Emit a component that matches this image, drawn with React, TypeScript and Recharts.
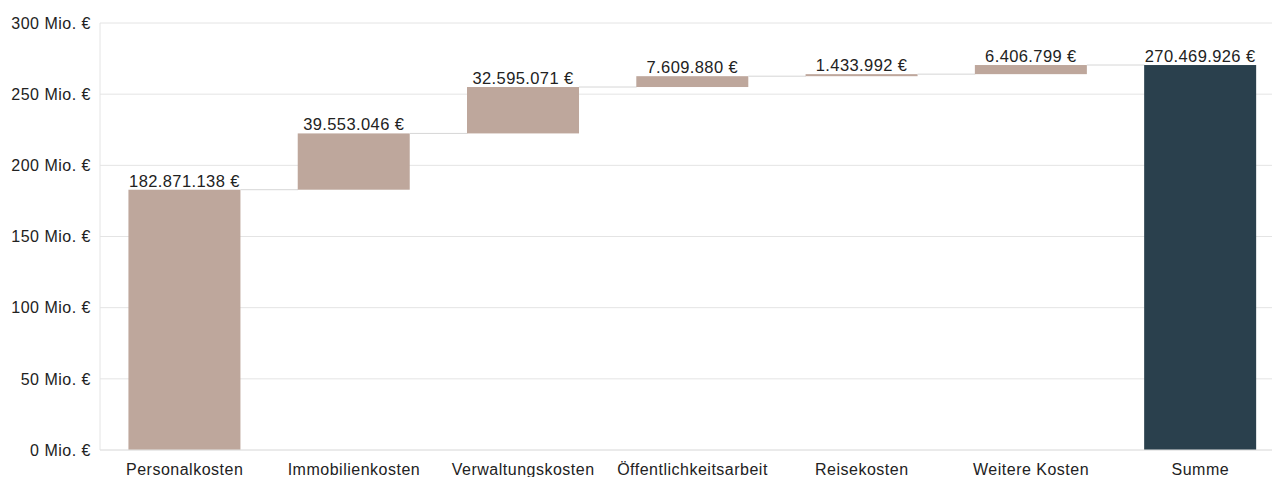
import React from 'react';
import { BarChart, Bar, XAxis, YAxis, CartesianGrid, Cell, LabelList } from 'recharts';

// Kostenarten und Beträge (in Euro), letzte Spalte ist die Summe
const categories = [
  'Personalkosten',
  'Immobilienkosten',
  'Verwaltungskosten',
  'Öffentlichkeitsarbeit',
  'Reisekosten',
  'Weitere Kosten',
  'Summe',
];
const amounts = [182871138, 39553046, 32595071, 7609880, 1433992, 6406799, 270469926];
const isTotal = [false, false, false, false, false, false, true];
const yTicks = [0, 50e6, 100e6, 150e6, 200e6, 250e6, 300e6];

const STEP_COLOR = '#bea79c';
const TOTAL_COLOR = '#2a404d';
const GRID_COLOR = '#e4e4e4';
const TEXT_COLOR = '#222';
const FONT = '"Liberation Sans", Arial, sans-serif';
const GAP = 0.168;

// base = transparent offset, value = sichtbarer Balken
let running = 0;
const data = categories.map((name, i) => {
  const base = isTotal[i] ? 0 : running;
  if (!isTotal[i]) running += amounts[i];
  return { name, base, value: amounts[i], total: isTotal[i] };
});

const euro = (v: number) => String(v).replace(/\B(?=(\d{3})+(?!\d))/g, '.') + ' €';

// Balken plus Verbindungslinie zum nächsten Balken
const StepShape = (props: any) => {
  const { x, y, width, height, fill, payload } = props;
  const gap = (width * 2 * GAP) / (1 - 2 * GAP);
  return (
    <g>
      <rect x={x} y={y} width={width} height={Math.max(height, 0)} fill={fill} />
      {!payload.total && (
        <line x1={x + width} x2={x + width + gap + 1} y1={y} y2={y} stroke="#d6d6d6" strokeWidth={1} />
      )}
    </g>
  );
};

export default function App() {
  return (
    <div style={{ position: 'absolute', left: 0, top: 0, width: 1272, height: 477, overflow: 'hidden', background: '#fff' }}>
      <BarChart
        width={1285}
        height={477}
        data={data}
        margin={{ top: 23, right: 0, left: 0, bottom: 0 }}
        barCategoryGap={`${GAP * 100}%`}
        style={{ fontFamily: FONT }}
      >
        <CartesianGrid vertical={false} stroke={GRID_COLOR} />
        <XAxis
          dataKey="name"
          height={27}
          tickLine={false}
          axisLine={{ stroke: GRID_COLOR }}
          tickMargin={8}
          interval={0}
          tick={{ fill: TEXT_COLOR, fontSize: 16, letterSpacing: 0.5 }}
        />
        <YAxis
          width={100}
          domain={[0, 300e6]}
          ticks={yTicks}
          tickLine={false}
          axisLine={{ stroke: GRID_COLOR }}
          tickMargin={3}
          tickFormatter={(v: number) => `${v / 1e6} Mio. €`}
          tick={{ fill: TEXT_COLOR, fontSize: 16, letterSpacing: 0.5 }}
        />
        <Bar dataKey="base" stackId="w" fill="transparent" isAnimationActive={false} />
        <Bar dataKey="value" stackId="w" shape={StepShape} isAnimationActive={false}>
          {data.map((d, i) => (
            <Cell key={i} fill={d.total ? TOTAL_COLOR : STEP_COLOR} />
          ))}
          <LabelList
            dataKey="value"
            position="top"
            offset={3}
            formatter={(v: any) => euro(Number(v))}
            style={{ fill: TEXT_COLOR, fontSize: 16.5, letterSpacing: 0.4 }}
          />
        </Bar>
      </BarChart>
    </div>
  );
}
